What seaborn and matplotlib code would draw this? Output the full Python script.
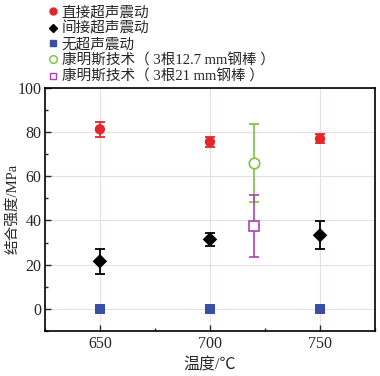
import matplotlib
matplotlib.use("Agg")
import matplotlib.pyplot as plt
import seaborn as sns
import pandas as pd
import numpy as np
from matplotlib.ticker import MultipleLocator
from matplotlib.lines import Line2D

sns.set_style("white")
plt.rcParams['font.family'] = ['Liberation Serif', 'Noto Sans CJK SC']
plt.rcParams['axes.unicode_minus'] = False

temps = [650, 700, 750]
direct = [81.3, 75.6, 77.0]
direct_err = [3.5, 2.3, 2.0]
indirect = [21.5, 31.4, 33.3]
indirect_err = [5.7, 3.0, 6.3]
none_us = [0.0, 0.0, 0.0]
conf_x = [720]
conf127 = [65.9]
conf127_err = [17.7]
conf21 = [37.6]
conf21_err = [14.0]

labels = ["直接超声震动", "间接超声震动", "无超声震动",
          "康明斯技术（ 3根12.7 mm钢棒 ）", "康明斯技术（ 3根21 mm钢棒 ）"]

red = "#e3262b"
blue = "#3b4ea6"
green = "#7cc243"
purple = "#b03fb5"

fig = plt.figure(figsize=(3.8, 3.76), dpi=100)
ax = fig.add_axes([0.118, 0.12, 0.869, 0.646])

df = pd.DataFrame({
    "T": temps * 3,
    "v": direct + indirect + none_us,
    "s": [labels[0]] * 3 + [labels[1]] * 3 + [labels[2]] * 3,
})

ax.errorbar(temps, direct, yerr=direct_err, fmt='none', ecolor=red, capsize=3.5, elinewidth=1.3, capthick=1.3, zorder=2)
ax.errorbar(temps, indirect, yerr=indirect_err, fmt='none', ecolor='black', capsize=3.5, elinewidth=1.3, capthick=1.3, zorder=2)
ax.errorbar(conf_x, conf127, yerr=conf127_err, fmt='none', ecolor=green, capsize=3.5, elinewidth=1.2, capthick=1.2, zorder=2)
ax.errorbar(conf_x, conf21, yerr=conf21_err, fmt='none', ecolor=purple, capsize=3.5, elinewidth=1.2, capthick=1.2, zorder=2)

sns.scatterplot(data=df, x="T", y="v", hue="s", style="s",
                palette=[red, "black", blue], markers=["o", "D", "s"],
                s=55, linewidth=0, ax=ax, legend=False, zorder=3)
ax.plot(conf_x, conf127, 'o', mfc='white', mec=green, ms=7.5, mew=1.2, zorder=3)
ax.plot(conf_x, conf21, 's', mfc='white', mec=purple, ms=6.5, mew=1.2, zorder=3)

ax.set_xlim(625, 775)
ax.set_ylim(-10, 100)
ax.xaxis.set_major_locator(MultipleLocator(50))
ax.xaxis.set_minor_locator(MultipleLocator(25))
ax.yaxis.set_major_locator(MultipleLocator(20))
ax.yaxis.set_minor_locator(MultipleLocator(10))
ax.tick_params(which='both', direction='in', top=False, right=False, bottom=True, left=True, labelsize=11.5)
ax.tick_params(which='major', length=4, width=1)
ax.tick_params(which='minor', length=2.5, width=1)
ax.tick_params(axis='y', pad=2.5)
ax.grid(True, which='major', color='#ecdede', linewidth=0.8)
ax.set_axisbelow(True)
for sp in ax.spines.values():
    sp.set_linewidth(1.2)
    sp.set_color('black')

ax.set_xlabel("温度/℃", fontsize=11.5, labelpad=4)
ax.set_ylabel("结合强度/MPa", fontsize=10.5)
ax.yaxis.set_label_coords(-0.078, 0.5)

handles = [
    Line2D([], [], marker='o', ls='none', color=red, ms=5),
    Line2D([], [], marker='D', ls='none', color='black', ms=4.5),
    Line2D([], [], marker='s', ls='none', color=blue, ms=4.5),
    Line2D([], [], marker='o', ls='none', mfc='white', mec=green, ms=5.5, mew=1),
    Line2D([], [], marker='s', ls='none', mfc='white', mec=purple, ms=5, mew=1),
]
fig.legend(handles, labels, loc='upper left', bbox_to_anchor=(0.105, 1.008),
           frameon=False, fontsize=10.5, handlelength=0.6, handletextpad=0.3,
           labelspacing=0.15, borderaxespad=0.2)

fig.savefig("out.png", dpi=100)
